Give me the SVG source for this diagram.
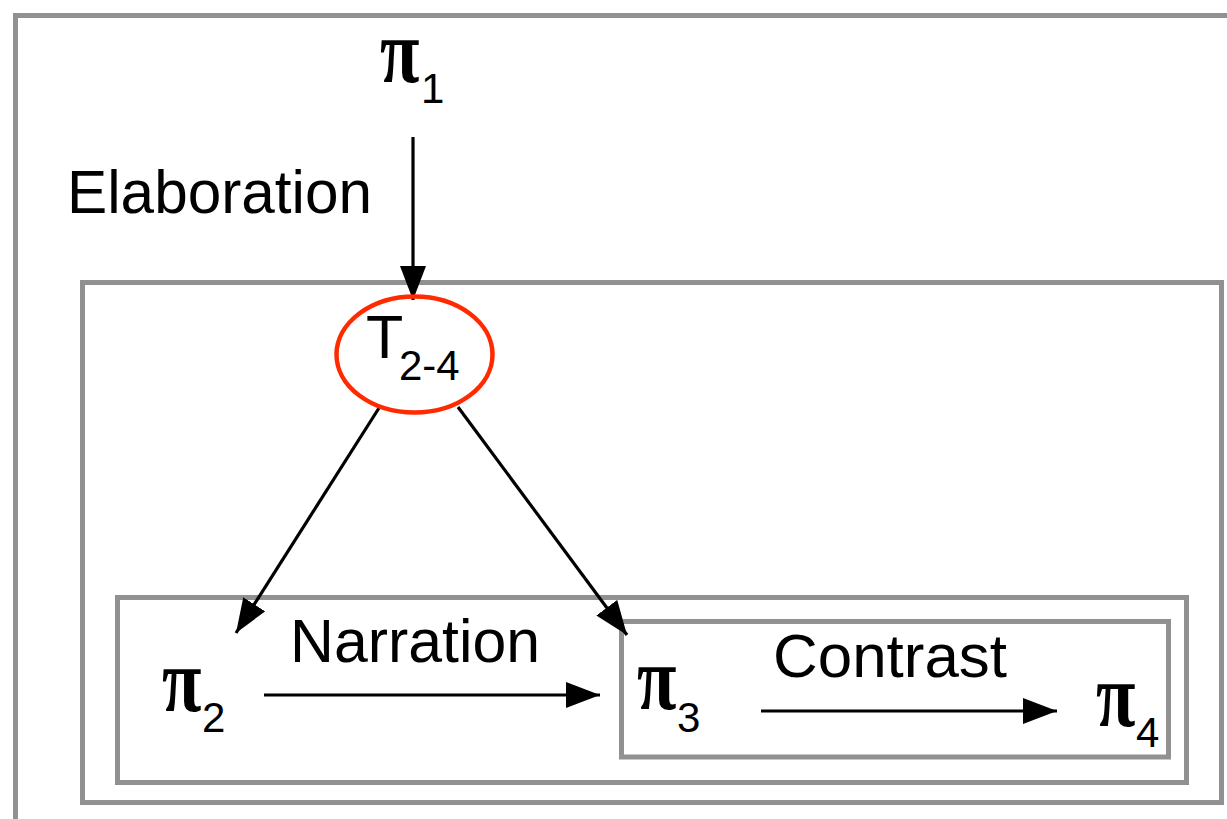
<svg xmlns="http://www.w3.org/2000/svg" width="1227" height="819" viewBox="0 0 1227 819">
  <style>
    .box { fill: none; stroke: #919191; stroke-width: 5; }
    .conn { stroke: #000; stroke-width: 3.2; fill: none; }
    .lbl { font-family: "Liberation Sans", Arial, sans-serif; font-size: 61px; fill: #000; }
    .pi { font-family: "Liberation Serif", "Times New Roman", serif; font-weight: bold; font-size: 72px; fill: #000; }
    .sub { font-family: "Liberation Sans", Arial, sans-serif; font-size: 42px; fill: #000; }
  </style>
  <defs>
    <marker id="ah" markerUnits="userSpaceOnUse" markerWidth="34" markerHeight="26" refX="34" refY="13" orient="auto" viewBox="0 0 34 26">
      <path d="M0,0 L34,13 L0,26 z" fill="#000"/>
    </marker>
  </defs>
  <rect width="1227" height="819" fill="#fff"/>

  <g id="outer-box"><rect class="box" x="15.5" y="15.5" width="1260" height="860"/></g>
  <g id="box-t24"><rect class="box" x="82.5" y="282.5" width="1139" height="520"/></g>
  <g id="box-narration"><rect class="box" x="117.5" y="597.5" width="1069" height="185"/></g>
  <g id="box-contrast"><rect class="box" x="621.5" y="621.5" width="547" height="135.5"/></g>

  <g id="connectors">
    <line class="conn" x1="413" y1="137" x2="413" y2="300" marker-end="url(#ah)"/>
    <line class="conn" x1="379" y1="408" x2="236" y2="633" marker-end="url(#ah)"/>
    <line class="conn" x1="458" y1="407" x2="627" y2="635" marker-end="url(#ah)"/>
    <line class="conn" x1="264" y1="695" x2="600" y2="695" marker-end="url(#ah)"/>
    <line class="conn" x1="761" y1="711" x2="1057" y2="711" marker-end="url(#ah)"/>
  </g>

  <g id="label-elaboration"><text class="lbl" x="67" y="213" textLength="305" lengthAdjust="spacingAndGlyphs">Elaboration</text></g>
  <g id="label-narration"><text class="lbl" x="290" y="662" textLength="250" lengthAdjust="spacingAndGlyphs">Narration</text></g>
  <g id="label-contrast"><text class="lbl" x="773" y="677" textLength="234" lengthAdjust="spacingAndGlyphs">Contrast</text></g>

  <g id="node-pi1"><text class="pi" transform="translate(380,82) scale(1,1.25)">π</text><text class="sub" x="421" y="103" font-size="46">1</text></g>
  <g id="node-t24">
    <ellipse cx="414.5" cy="354.5" rx="78" ry="58" fill="none" stroke="#ff2a00" stroke-width="4.5"/>
    <text class="lbl" x="366" y="358" font-size="55">T</text><text class="sub" x="399" y="380" font-size="40">2-4</text>
  </g>
  <g id="node-pi2"><text class="pi" transform="translate(162,711) scale(1,1.25)">π</text><text class="sub" x="202" y="732">2</text></g>
  <g id="node-pi3"><text class="pi" transform="translate(637,709) scale(1,1.25)">π</text><text class="sub" x="677" y="732">3</text></g>
  <g id="node-pi4"><text class="pi" transform="translate(1096,726) scale(1,1.25)">π</text><text class="sub" x="1136" y="747">4</text></g>
</svg>
